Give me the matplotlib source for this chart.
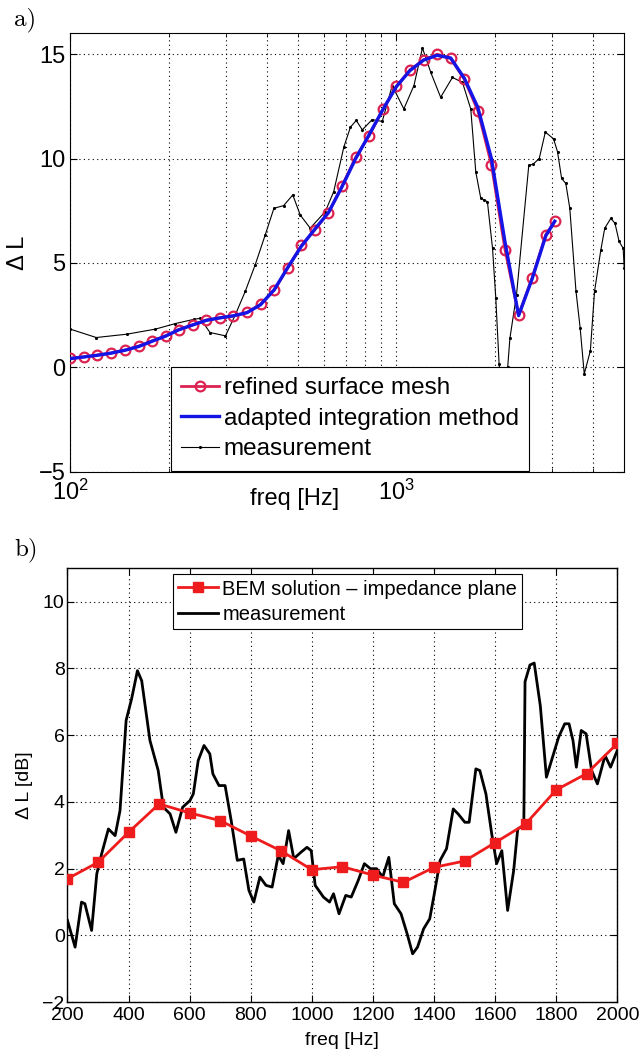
import matplotlib
matplotlib.use("Agg")
import matplotlib.pyplot as plt
from matplotlib.ticker import FixedLocator, NullFormatter, FixedFormatter

plt.rcParams['font.family'] = ['Liberation Sans', 'DejaVu Sans']
plt.rcParams['mathtext.fontset'] = 'custom'
plt.rcParams['mathtext.rm'] = 'Liberation Sans'
plt.rcParams['axes.unicode_minus'] = True

#### a) data
freqMesh = [100, 110, 121, 133, 147, 162, 178, 196, 215, 237, 261, 287, 316, 348, 383, 422,
            464, 511, 562, 619, 681, 750, 825, 909, 1000, 1101, 1212, 1334, 1468, 1616, 1778,
            1957, 2154, 2371, 2610, 2873, 3060]
refinedMesh = [0.44, 0.50, 0.59, 0.68, 0.83, 1.02, 1.27, 1.51, 1.81, 2.03, 2.27, 2.37, 2.46,
               2.63, 3.02, 3.70, 4.76, 5.84, 6.59, 7.40, 8.69, 10.06, 11.10, 12.36, 13.46, 14.25,
               14.73, 15.00, 14.80, 13.80, 12.30, 9.71, 5.64, 2.51, 4.29, 6.36, 6.99]
adaptedInt = [0.42, 0.50, 0.58, 0.68, 0.82, 1.00, 1.25, 1.50, 1.80, 2.03, 2.25, 2.37, 2.47,
              2.62, 3.00, 3.72, 4.78, 5.80, 6.62, 7.42, 8.65, 10.00, 11.15, 12.35, 13.45, 14.22,
              14.72, 14.95, 14.82, 13.85, 12.45, 10.00, 6.00, 2.48, 4.25, 6.30, 7.00]

freqMeasA = [100, 120, 149, 182, 210, 239, 250, 268, 299, 321, 344, 369, 396, 421, 451, 481,
             507, 544, 605, 642, 690, 723, 753, 786, 843, 905, 971, 1054, 1132, 1202, 1275,
             1367, 1486, 1595, 1691, 1752, 1815, 1858, 1902, 1972, 2018, 2066, 2110, 2160, 2195,
             2230, 2337, 2548, 2624, 2743, 2864, 3035, 3122, 3213, 3310, 3404, 3556, 3662, 3770,
             3936, 4055, 4236, 4358, 4550, 4685, 4823, 4962, 5000]
measA = [1.83, 1.43, 1.59, 1.83, 2.10, 2.30, 2.35, 1.67, 1.51, 2.54, 3.65, 4.92, 6.35, 7.62,
         7.75, 8.26, 7.30, 6.67, 7.46, 8.41, 10.56, 11.51, 11.83, 11.38, 11.87, 11.78, 13.5,
         12.38, 13.5, 15.3, 14.13, 12.94, 13.89, 13.65, 12.38, 9.37, 8.10, 8.02, 7.94, 5.71,
         3.33, 0.17, -1.2, -1.0, 0.0, 1.4, 3.49, 9.68, 9.73, 10.0, 11.27, 10.95, 10.32, 9.05,
         8.81, 7.62, 3.65, 1.90, -0.31, 0.79, 3.65, 5.6, 6.67, 7.14, 6.9, 6.03, 5.71, 4.76]

#### b) data
freqBem = [200, 300, 400, 500, 600, 700, 800, 900, 1000, 1100, 1200, 1300, 1400, 1500, 1600,
           1700, 1800, 1900, 2000]
bem = [1.70, 2.19, 3.09, 3.94, 3.67, 3.44, 2.98, 2.53, 1.97, 2.06, 1.81, 1.59, 2.04, 2.23,
       2.78, 3.34, 4.36, 4.85, 5.75]

freqMeasB = [200, 225, 246, 257, 279, 296, 312, 334, 356, 372, 392, 410, 429, 443, 470, 497,
             514, 536, 555, 577, 601, 612, 628, 647, 666, 676, 696, 716, 736, 756, 777, 794,
             810, 830, 850, 870, 890, 906, 924, 941, 964, 984, 998, 1011, 1038, 1058, 1071,
             1089, 1111, 1129, 1152, 1172, 1192, 1212, 1232, 1252, 1270, 1292, 1312, 1330,
             1346, 1366, 1386, 1400, 1420, 1441, 1463, 1479, 1501, 1515, 1537, 1550, 1570,
             1589, 1605, 1622, 1641, 1661, 1674, 1694, 1698, 1714, 1728, 1748, 1768, 1788,
             1808, 1828, 1842, 1855, 1866, 1882, 1898, 1916, 1935, 1960, 1978, 2000]
measB = [0.45, -0.35, 1.0, 0.95, 0.15, 1.85, 2.45, 3.19, 2.99, 3.74, 6.44, 7.09, 7.93, 7.63,
         5.84, 4.94, 3.84, 3.64, 3.09, 3.84, 4.04, 4.24, 5.24, 5.69, 5.44, 4.84, 4.49, 4.49,
         3.44, 2.25, 2.29, 1.35, 1.0, 1.75, 1.5, 1.45, 2.40, 2.15, 3.14, 2.30, 2.49, 2.64,
         2.54, 1.5, 1.15, 1.0, 1.25, 0.65, 1.2, 1.15, 1.65, 2.15, 2.0, 2.0, 1.75, 2.34, 0.95,
         0.65, 0.05, -0.55, -0.35, 0.2, 0.5, 1.2, 2.25, 2.6, 3.79, 3.64, 3.39, 3.39, 4.99,
         4.94, 4.24, 3.04, 2.15, 2.54, 0.75, 1.96, 3.19, 3.29, 7.6, 8.1, 8.16, 6.88, 4.74,
         5.34, 5.94, 6.34, 6.34, 5.84, 5.04, 6.14, 6.04, 4.94, 4.54, 5.39, 5.04, 5.54]

gridStyle = dict(color="k", linestyle=(0, (1, 3)), linewidth=0.8)

fig = plt.figure(figsize=(6.42, 10.53), dpi=100)

##################
#### Plot a) ####
##################
ax1 = fig.add_axes([0.1097, 0.552, 0.8626, 0.4163])
ax1.set_xscale("log")
ax1.plot(freqMeasA, measA, c="k", lw=0.8, marker=".", ms=2.5, label="measurement", zorder=2)
ax1.plot(freqMesh, refinedMesh, c="#dc2250", lw=2, marker="o", ms=7, mfc="none", mew=1.6,
         label="refined surface mesh", zorder=3)
ax1.plot(freqMesh, adaptedInt, c="#1414e6", lw=2.4, label="adapted integration method", zorder=4)
ax1.set_xlim(100, 5000)
ax1.set_ylim(-5, 16)
ax1.set_yticks([-5, 0, 5, 10, 15])
ax1.xaxis.set_major_locator(FixedLocator([100, 1000]))
ax1.xaxis.set_major_formatter(FixedFormatter([r"$\mathregular{10^{2}}$", r"$\mathregular{10^{3}}$"]))
ax1.xaxis.set_minor_locator(FixedLocator([200, 300, 400, 500, 600, 700, 800, 900, 2000, 3000, 4000]))
ax1.xaxis.set_minor_formatter(NullFormatter())
ax1.grid(True, which="major", **gridStyle)
ax1.xaxis.grid(True, which="minor", **gridStyle)
ax1.tick_params(which="both", direction="in", top=True, right=True, labelsize=17)
ax1.tick_params(which="major", length=5)
ax1.tick_params(which="minor", length=3)
ax1.tick_params(axis="x", pad=6)
ax1.set_xlabel("freq [Hz]", fontsize=17)
ax1.xaxis.set_label_coords(0.404, -0.037)
ax1.set_ylabel("\u0394 L", fontsize=17)
ax1.yaxis.set_label_coords(-0.075, 0.5)
h, l = ax1.get_legend_handles_labels()
leg1 = ax1.legend([h[1], h[2], h[0]], [l[1], l[2], l[0]], loc="upper left",
                  bbox_to_anchor=(0.1817, 0.2388), borderaxespad=0, fontsize=17.5,
                  fancybox=False, framealpha=1, edgecolor="k", handlelength=1.55,
                  handletextpad=0.2, labelspacing=0.35, borderpad=0.42)
leg1.get_frame().set_linewidth(0.8)
leg1.set_zorder(10)
for s in ax1.spines.values():
    s.set_linewidth(0.8)

##################
#### Plot b) ####
##################
ax2 = fig.add_axes([0.1051, 0.0482, 0.8564, 0.4122])
ax2.plot(freqBem, bem, c="#ee1c1c", lw=2, marker="s", ms=7, label="BEM solution \u2013 impedance plane", zorder=3)
ax2.plot(freqMeasB, measB, c="k", lw=2, label="measurement", zorder=2)
ax2.set_xlim(200, 2000)
ax2.set_ylim(-2, 11)
ax2.set_xticks(range(200, 2001, 200))
ax2.set_yticks([-2, 0, 2, 4, 6, 8, 10])
ax2.grid(True, **gridStyle)
ax2.tick_params(direction="in", top=True, right=True, labelsize=14, length=5)
ax2.tick_params(axis="y", pad=2)
ax2.set_xlabel("freq [Hz]", fontsize=14)
ax2.xaxis.set_label_coords(0.5, -0.068)
ax2.set_ylabel("\u0394 L [dB]", fontsize=14)
ax2.yaxis.set_label_coords(-0.063, 0.5)
leg2 = ax2.legend(loc="upper left", bbox_to_anchor=(0.1913, 0.9855), borderaxespad=0,
                  fontsize=14.5, fancybox=False, framealpha=1, edgecolor="k", handlelength=2.0,
                  handletextpad=0.22, labelspacing=0.3, borderpad=0.25)
leg2.get_frame().set_linewidth(0.8)
for s in ax2.spines.values():
    s.set_linewidth(1.0)

fig.text(0.022, 0.981, "a)", family="cmr10", fontsize=18, va="center")
fig.text(0.022, 0.478, "b)", family="cmr10", fontsize=18, va="center")

fig.savefig("out.png", dpi=100)
